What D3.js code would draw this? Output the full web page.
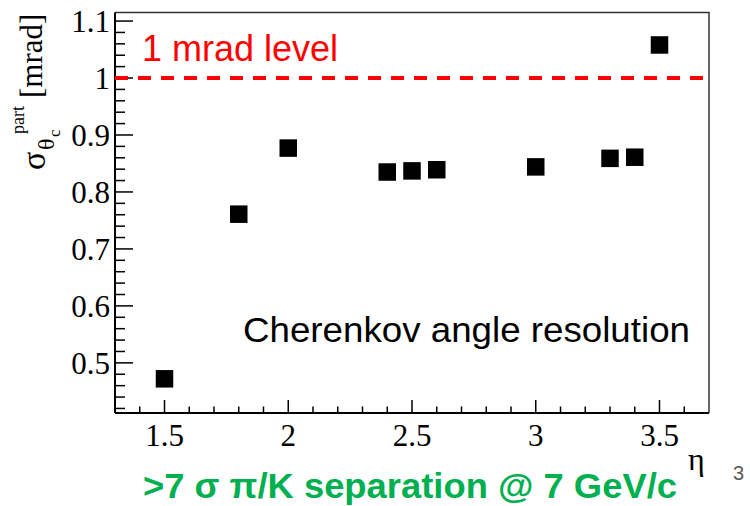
<!DOCTYPE html>
<html>
<head>
<meta charset="utf-8">
<script src="https://cdn.jsdelivr.net/npm/d3@7"></script>
<style>
  body { margin: 0; background: #fff; }
  svg { display: block; }
</style>
</head>
<body>
<svg id="chart" width="750" height="506"></svg>
<script>
// eta points and measured resolution (mrad)
var etaValues = [1.5, 1.8, 2.0, 2.4, 2.5, 2.6, 3.0, 3.3, 3.4, 3.5];
var sigmaValues = [0.472, 0.761, 0.877, 0.835, 0.837, 0.839, 0.844, 0.859, 0.861, 1.058];

var xTicks = [1.5, 2, 2.5, 3, 3.5];
var xTickLabels = ["1.5", "2", "2.5", "3", "3.5"];
var yTicks = [0.5, 0.6, 0.7, 0.8, 0.9, 1.0, 1.1];
var yTickLabels = ["0.5", "0.6", "0.7", "0.8", "0.9", "1", "1.1"];
var levelValue = [1.0];

(function() {
var svg = d3.select("#chart");
// plot frame in pixels (note: "top" is reserved on window, so use other names)
var pL = 115, pR = 709, pT = 12.5, pB = 413;

var x = d3.scaleLinear().domain([1.3, 3.7]).range([pL, pR]);
var y = d3.scaleLinear().domain([0.412, 1.115]).range([pB, pT]);

var serif = "'Liberation Serif', 'Times New Roman', serif";
var sans = "'Liberation Sans', Arial, sans-serif";

// frame: top and right are thin grey
svg.append("path")
    .attr("d", "M" + pL + "," + pT + "H" + pR + "V" + pB)
    .attr("fill", "none")
    .attr("stroke", "#333")
    .attr("stroke-width", 1.5);

// y axis (ticks pointing inside)
var yAxis = svg.append("g").attr("transform", "translate(" + pL + ",0)");
yAxis.append("line").attr("y1", pT).attr("y2", pB).attr("stroke", "#000").attr("stroke-width", 2);
var yMinor = d3.range(0.42, 1.115, 0.02);
yAxis.selectAll("line.minor").data(yMinor).enter().append("line")
    .attr("class", "minor")
    .attr("x1", 0).attr("x2", function(d) {
        return Math.abs(Math.round(d * 10) - d * 10) < 1e-6 ? 18 : 10;
    })
    .attr("y1", function(d) { return y(d); })
    .attr("y2", function(d) { return y(d); })
    .attr("stroke", "#000").attr("stroke-width", 1.5);
yAxis.selectAll("text").data(yTicks).enter().append("text")
    .attr("x", -5)
    .attr("y", function(d) { return y(d); })
    .attr("dy", "0.35em")
    .attr("text-anchor", "end")
    .attr("font-family", serif)
    .attr("font-size", 31)
    .text(function(d, i) { return yTickLabels[i]; });

// x axis (ticks pointing up)
var xAxis = svg.append("g").attr("transform", "translate(0," + pB + ")");
xAxis.append("line").attr("x1", pL).attr("x2", pR).attr("stroke", "#000").attr("stroke-width", 2);
var xMinor = d3.range(1.4, 3.7, 0.1);
xAxis.selectAll("line.minor").data(xMinor).enter().append("line")
    .attr("class", "minor")
    .attr("x1", function(d) { return x(d); })
    .attr("x2", function(d) { return x(d); })
    .attr("y1", 0)
    .attr("y2", function(d) {
        return Math.abs(Math.round(d * 2) - d * 2) < 1e-6 ? -13 : -6.5;
    })
    .attr("stroke", "#000").attr("stroke-width", 1.5);
xAxis.selectAll("text").data(xTicks).enter().append("text")
    .attr("x", function(d) { return x(d); })
    .attr("y", 33)
    .attr("text-anchor", "middle")
    .attr("font-family", serif)
    .attr("font-size", 31)
    .text(function(d, i) { return xTickLabels[i]; });

// 1 mrad level line
svg.selectAll("line.level").data(levelValue).enter().append("line")
    .attr("class", "level")
    .attr("x1", pL).attr("x2", pR + 4)
    .attr("y1", function(d) { return y(d); })
    .attr("y2", function(d) { return y(d); })
    .attr("stroke", "#ff0000")
    .attr("stroke-width", 4)
    .attr("stroke-dasharray", "13,10");

svg.append("text")
    .attr("x", 142).attr("y", 61)
    .attr("font-family", sans).attr("font-size", 36)
    .attr("fill", "#ff0000")
    .text("1 mrad level");

// markers
var size = 17.5;
svg.selectAll("rect.pt").data(etaValues).enter().append("rect")
    .attr("class", "pt")
    .attr("x", function(d) { return x(d) - size / 2; })
    .attr("y", function(d, i) { return y(sigmaValues[i]) - size / 2; })
    .attr("width", size).attr("height", size)
    .attr("fill", "#000");

svg.append("text")
    .attr("x", 243).attr("y", 342)
    .attr("font-family", sans).attr("font-size", 35)
    .attr("textLength", 447).attr("lengthAdjust", "spacingAndGlyphs")
    .text("Cherenkov angle resolution");

// y title: sigma^{part}_{theta_c} [mrad]
var yt = svg.append("g").attr("transform", "translate(45,170) rotate(-90)")
    .attr("font-family", serif);
yt.append("text").attr("x", 0).attr("y", 0).attr("font-size", 34).text("σ");
yt.append("text").attr("x", 20).attr("y", 9).attr("font-size", 24).text("θ");
yt.append("text").attr("x", 33).attr("y", 15).attr("font-size", 17).text("c");
yt.append("text").attr("x", 36).attr("y", -21).attr("font-size", 18).text("part");
yt.append("text").attr("x", 72).attr("y", -3).attr("font-size", 31).text("[mrad]");

// x title
svg.append("text")
    .attr("x", 688).attr("y", 470)
    .attr("font-family", serif).attr("font-size", 32)
    .text("η");

svg.append("text")
    .attr("x", 143).attr("y", 498)
    .attr("font-family", sans).attr("font-size", 35).attr("font-weight", "bold")
    .attr("fill", "#00b050")
    .attr("textLength", 534).attr("lengthAdjust", "spacingAndGlyphs")
    .text(">7 σ π/K separation @ 7 GeV/c");

svg.append("text")
    .attr("x", 733).attr("y", 480)
    .attr("font-family", sans).attr("font-size", 20)
    .attr("fill", "#595959")
    .text("3");
})();
</script>
</body>
</html>
